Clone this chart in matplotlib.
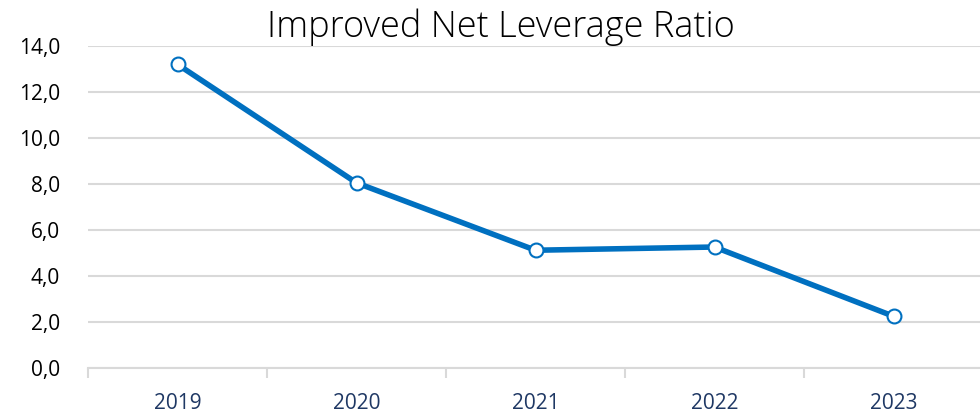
import matplotlib.pyplot as plt
import numpy as np
from matplotlib.ticker import FuncFormatter

years = ['2019', '2020', '2021', '2022', '2023']
ratio = [13.2, 8.05, 5.12, 5.26, 2.25]
yticks = [0, 2, 4, 6, 8, 10, 12, 14]

plt.rcParams['font.family'] = ['Open Sans', 'DejaVu Sans']

fig = plt.figure(figsize=(9.8, 4.2), dpi=100)
ax = fig.add_axes([88/980, 52/420, 895/980, 322/420])

x = np.arange(len(years))
ax.plot(x, ratio, color='#0070C0', lw=4, marker='o', ms=10,
        mfc='white', mec='#0070C0', mew=1.5, zorder=3)

ax.set_xlim(-0.5, len(years) - 0.5)
ax.set_ylim(0, 14)
ax.set_yticks(yticks)
ax.yaxis.set_major_formatter(FuncFormatter(lambda v, p: f'{v:.1f}'.replace('.', ',')))
ax.grid(axis='y', color='#D9D9D9', lw=1.5)
ax.set_axisbelow(True)

for s in ['top', 'right', 'left']:
    ax.spines[s].set_visible(False)
ax.spines['bottom'].set_color('#D9D9D9')
ax.spines['bottom'].set_linewidth(1.5)

ax.set_xticks(x)
ax.set_xticklabels(years, color='#1F3864', fontsize=15)
ax.tick_params(axis='x', which='major', length=0, pad=18)
ax.set_xticks(np.arange(-0.5, len(years), 1), minor=True)
ax.tick_params(axis='x', which='minor', length=7, width=1.5, color='#D9D9D9')
ax.tick_params(axis='y', length=0, labelsize=15, labelcolor='black', pad=20)

fig.text(0.511, 0.935, 'Improved Net Leverage Ratio', ha='center', va='center',
         fontsize=26, fontweight='light')

fig.savefig('out.png', dpi=100)
